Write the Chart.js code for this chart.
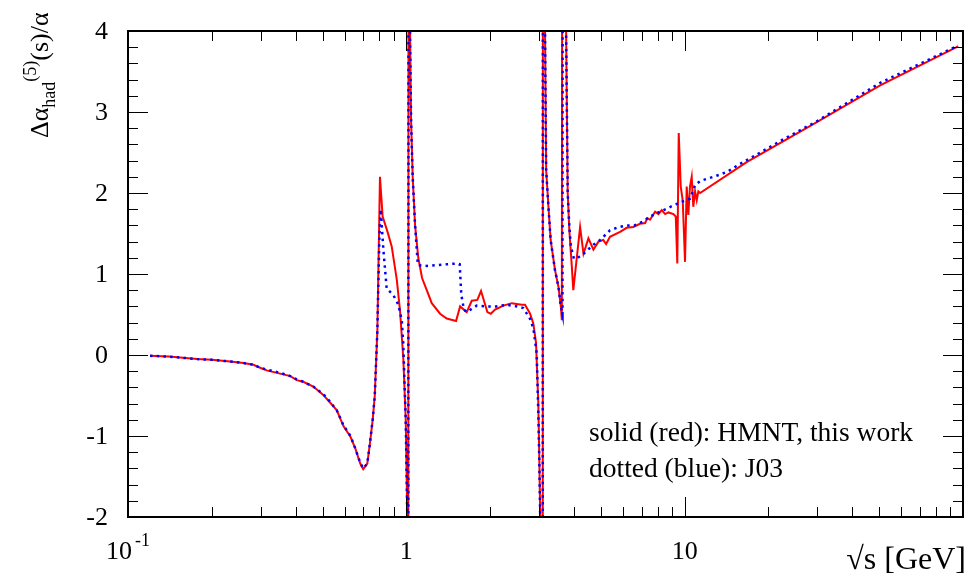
<!DOCTYPE html>
<html>
<head>
<meta charset="utf-8">
<script src="https://cdn.jsdelivr.net/npm/chart.js@4.4.1/dist/chart.umd.min.js"></script>
<style>
  html, body { margin: 0; padding: 0; background: #fff; }
  #wrap { width: 970px; height: 581px; position: relative; }
</style>
</head>
<body>
<div id="wrap"><canvas id="alphaChart"></canvas></div>
<script>
// sqrt(s) in GeV and the hadronic shift Δα_had(s)/α, HMNT (solid red)
const hmntS = [
  0.12, 0.14, 0.177, 0.2, 0.233, 0.26, 0.282, 0.3, 0.315, 0.352, 0.383, 0.404, 0.426, 0.463,
  0.502, 0.53, 0.562, 0.595, 0.63, 0.655, 0.683, 0.70, 0.724, 0.74, 0.757, 0.77, 0.787, 0.804,
  0.822, 0.856, 0.886, 0.924, 0.949, 0.9755, 0.995, 1.008, 1.013, 1.021, 1.031, 1.040, 1.054,
  1.075, 1.104, 1.139, 1.184, 1.234, 1.322, 1.397, 1.509, 1.56, 1.648, 1.718, 1.799, 1.855,
  1.955, 2.011, 2.083, 2.232, 2.392, 2.6, 2.67, 2.784, 2.859, 2.924, 2.98, 3.005, 3.027, 3.085,
  3.10, 3.15, 3.18, 3.24, 3.30, 3.42, 3.52, 3.59, 3.62, 3.66, 3.69, 3.75, 3.80, 3.85, 3.93,
  3.98, 4.21, 4.33, 4.51, 4.70, 4.90, 5.10, 5.22, 5.39, 5.86, 6.19, 6.54, 6.91, 7.21, 7.35,
  7.51, 7.83, 8.05, 8.27, 8.51, 8.74, 9.11, 9.29, 9.41, 9.52, 9.68, 9.84, 10.03, 10.17, 10.31,
  10.45, 10.6, 10.74, 10.9, 11.05, 11.2, 11.36, 16.7, 29.0, 50.4, 96.0
];
const hmntVal = [
  -0.01, -0.02, -0.05, -0.06, -0.08, -0.10, -0.12, -0.16, -0.19, -0.23, -0.26, -0.31, -0.33, -0.39,
  -0.49, -0.58, -0.68, -0.88, -1.01, -1.15, -1.34, -1.41, -1.34, -1.09, -0.80, -0.51, 0.31, 2.20,
  1.71, 1.52, 1.34, 0.93, 0.55, -0.05, -0.80, -2.00, -20, 20, 4.0, 2.9, 2.2,
  1.6, 1.2, 0.95, 0.80, 0.64, 0.51, 0.45, 0.42, 0.60, 0.53, 0.67, 0.68, 0.79,
  0.53, 0.51, 0.56, 0.61, 0.64, 0.62, 0.62, 0.51, 0.39, 0.15, -0.60, -1.30, -2.00, -20,
  20, 4.0, 2.28, 1.83, 1.42, 1.05, 0.84, 0.60, 0.43, 20, 20, 4.0, 2.0, 1.55, 1.1,
  0.80, 1.58, 1.25, 1.44, 1.30, 1.40, 1.42, 1.37, 1.46, 1.52, 1.57, 1.58, 1.62, 1.63, 1.69,
  1.67, 1.77, 1.74, 1.79, 1.74, 1.76, 1.74, 1.71, 1.13, 2.74, 2.08, 1.91, 1.15, 2.08, 1.73,
  2.08, 2.20, 1.83, 2.02, 1.91, 2.02, 2.00, 2.38, 2.85, 3.33, 3.81
];

// J03 (dotted blue)
const j03S = [
  0.12, 0.14, 0.177, 0.2, 0.233, 0.26, 0.282, 0.3, 0.315, 0.352, 0.383, 0.404, 0.426, 0.463,
  0.502, 0.53, 0.562, 0.595, 0.63, 0.655, 0.683, 0.70, 0.724, 0.74, 0.757, 0.77, 0.787, 0.80,
  0.809, 0.827, 0.85, 0.898, 0.936, 0.963, 0.975, 0.995, 1.008, 1.013, 1.021, 1.031, 1.040,
  1.054, 1.075, 1.10, 1.184, 1.397, 1.52, 1.555, 1.575, 1.61, 1.65, 1.79, 1.94, 2.10, 2.29,
  2.50, 2.63, 2.78, 2.86, 2.94, 2.98, 3.005, 3.027, 3.085, 3.10, 3.15, 3.18, 3.24, 3.30, 3.42,
  3.52, 3.59, 3.64, 3.66, 3.69, 3.75, 3.80, 3.85, 3.90, 4.00, 4.09, 4.33, 4.70, 4.97, 5.39,
  5.8, 6.2, 6.6, 7.1, 7.51, 8.4, 9.3, 9.9, 10.45, 10.7, 10.9, 11.4, 12.7, 14.2, 16.0, 18.7,
  22.0, 30.0, 50.4, 96.0
];
const j03Val = [
  -0.01, -0.02, -0.05, -0.06, -0.08, -0.10, -0.12, -0.16, -0.18, -0.22, -0.26, -0.30, -0.33, -0.39,
  -0.48, -0.57, -0.68, -0.87, -1.00, -1.15, -1.33, -1.40, -1.34, -1.09, -0.80, -0.51, 0.31, 1.45,
  1.80, 1.30, 0.82, 0.74, 0.62, 0.43, 0.14, -0.80, -2.00, -20, 20, 4.0, 2.9,
  2.2, 1.6, 1.11, 1.10, 1.12, 1.13, 1.12, 0.75, 0.56, 0.53, 0.61, 0.60, 0.60, 0.62,
  0.60, 0.58, 0.45, 0.33, 0.02, -0.72, -1.33, -2.00, -20, 20, 4.0, 2.28, 1.83, 1.42, 1.05,
  0.84, 0.60, 0.50, 20, 20, 4.0, 2.0, 1.6, 1.34, 1.19, 1.19, 1.25, 1.36, 1.42, 1.54,
  1.58, 1.60, 1.60, 1.65, 1.71, 1.79, 1.86, 1.90, 1.93, 2.02, 2.10, 2.15, 2.20, 2.26, 2.37, 2.50,
  2.64, 2.89, 3.36, 3.82
];

const yTicks = [-2, -1, 0, 1, 2, 3, 4];
const xDecades = [0.1, 1, 10, 100];
const xLabels = [
  { value: 0.1, base: "10", exp: "-1" },
  { value: 1, base: "1", exp: "" },
  { value: 10, base: "10", exp: "" }
];
const legendLines = ["solid (red): HMNT, this work", "dotted (blue): J03"];

const SERIF = "'Liberation Serif', 'Times New Roman', serif";

const toPoints = (xs, ys) => xs.map((v, i) => ({ x: v, y: ys[i] }));

// frame, inward ticks on all four sides, labels and titles
const rootFrame = {
  id: "rootFrame",
  afterDatasetsDraw(chart) {
    const { ctx, chartArea: a, scales } = chart;
    const xs = scales.x, ys = scales.y;
    const majorLen = 20, minorLen = 10;
    ctx.save();
    ctx.strokeStyle = "#000";
    ctx.lineWidth = 1;
    ctx.beginPath();
    // y ticks, left and right
    for (let i = 0; i < yTicks.length; i++) {
      const py = Math.round(ys.getPixelForValue(yTicks[i])) + 0.5;
      ctx.moveTo(a.left, py); ctx.lineTo(a.left + majorLen, py);
      ctx.moveTo(a.right, py); ctx.lineTo(a.right - majorLen, py);
      if (i < yTicks.length - 1) {
        for (let k = 1; k < 5; k++) {
          const v = yTicks[i] + (yTicks[i + 1] - yTicks[i]) * k / 5;
          const pm = Math.round(ys.getPixelForValue(v)) + 0.5;
          ctx.moveTo(a.left, pm); ctx.lineTo(a.left + minorLen, pm);
          ctx.moveTo(a.right, pm); ctx.lineTo(a.right - minorLen, pm);
        }
      }
    }
    // x ticks, bottom and top (log)
    xDecades.forEach((d, i) => {
      const px = Math.round(xs.getPixelForValue(d)) + 0.5;
      ctx.moveTo(px, a.bottom); ctx.lineTo(px, a.bottom - majorLen);
      ctx.moveTo(px, a.top); ctx.lineTo(px, a.top + majorLen);
      if (i < xDecades.length - 1) {
        for (let m = 2; m < 10; m++) {
          const pm = Math.round(xs.getPixelForValue(d * m)) + 0.5;
          ctx.moveTo(pm, a.bottom); ctx.lineTo(pm, a.bottom - minorLen);
          ctx.moveTo(pm, a.top); ctx.lineTo(pm, a.top + minorLen);
        }
      }
    });
    ctx.stroke();

    ctx.lineWidth = 2;
    ctx.strokeRect(a.left, a.top, a.right - a.left, a.bottom - a.top);

    ctx.fillStyle = "#000";
    // y labels
    ctx.font = "26px " + SERIF;
    ctx.textAlign = "right";
    ctx.textBaseline = "middle";
    yTicks.forEach(v => {
      ctx.fillText(String(v), a.left - 20, ys.getPixelForValue(v) + 1);
    });

    // x labels
    ctx.textBaseline = "alphabetic";
    ctx.textAlign = "left";
    xLabels.forEach(l => {
      const px = xs.getPixelForValue(l.value);
      ctx.font = "26px " + SERIF;
      const wb = ctx.measureText(l.base).width;
      ctx.font = "18px " + SERIF;
      const we = l.exp ? ctx.measureText(l.exp).width + 3 : 0;
      const x0 = px - (wb + we) / 2;
      ctx.font = "26px " + SERIF;
      ctx.fillText(l.base, x0, a.bottom + 42);
      if (l.exp) {
        ctx.font = "18px " + SERIF;
        ctx.fillText(l.exp, x0 + wb + 3, a.bottom + 29);
      }
    });

    // x title
    ctx.font = "32px " + SERIF;
    ctx.textAlign = "right";
    ctx.fillText("\u221As [GeV]", a.right + 3, a.bottom + 52);

    // legend text
    ctx.font = "27.5px " + SERIF;
    ctx.textAlign = "left";
    legendLines.forEach((t, i) => {
      ctx.fillText(t, 589, 441 + i * 36);
    });

    // y title, rotated
    ctx.translate(48, 138);
    ctx.rotate(-Math.PI / 2);
    let cx = 0;
    const piece = (txt, size, dy) => {
      ctx.font = size + "px " + SERIF;
      ctx.fillText(txt, cx, dy);
      cx += ctx.measureText(txt).width;
    };
    piece("\u0394\u03B1", 26, 0);
    piece("had", 18, 7);
    piece("(5)", 18, -12);
    piece("(s)/\u03B1", 26, 0);
    ctx.restore();
  }
};

const chart = new Chart(document.getElementById("alphaChart"), {
  type: "scatter",
  data: {
    datasets: [
      {
        label: "J03",
        data: toPoints(j03S, j03Val),
        showLine: true,
        borderColor: "#0000ff",
        borderWidth: 2.5,
        borderDash: [2.5, 4.2],
        pointRadius: 0,
        tension: 0
      },
      {
        label: "HMNT",
        data: toPoints(hmntS, hmntVal),
        showLine: true,
        borderColor: "#ff0000",
        borderWidth: 2,
        pointRadius: 0,
        tension: 0
      }
    ]
  },
  options: {
    responsive: true,
    maintainAspectRatio: false,
    animation: false,
    devicePixelRatio: 1,
    layout: { padding: { left: 128, top: 31, right: 7, bottom: 64 } },
    scales: {
      x: { type: "logarithmic", min: 0.1, max: 100, display: false },
      y: { type: "linear", min: -2, max: 4, display: false }
    },
    plugins: {
      legend: { display: false },
      tooltip: { enabled: false }
    }
  },
  plugins: [rootFrame]
});
</script>
</body>
</html>
